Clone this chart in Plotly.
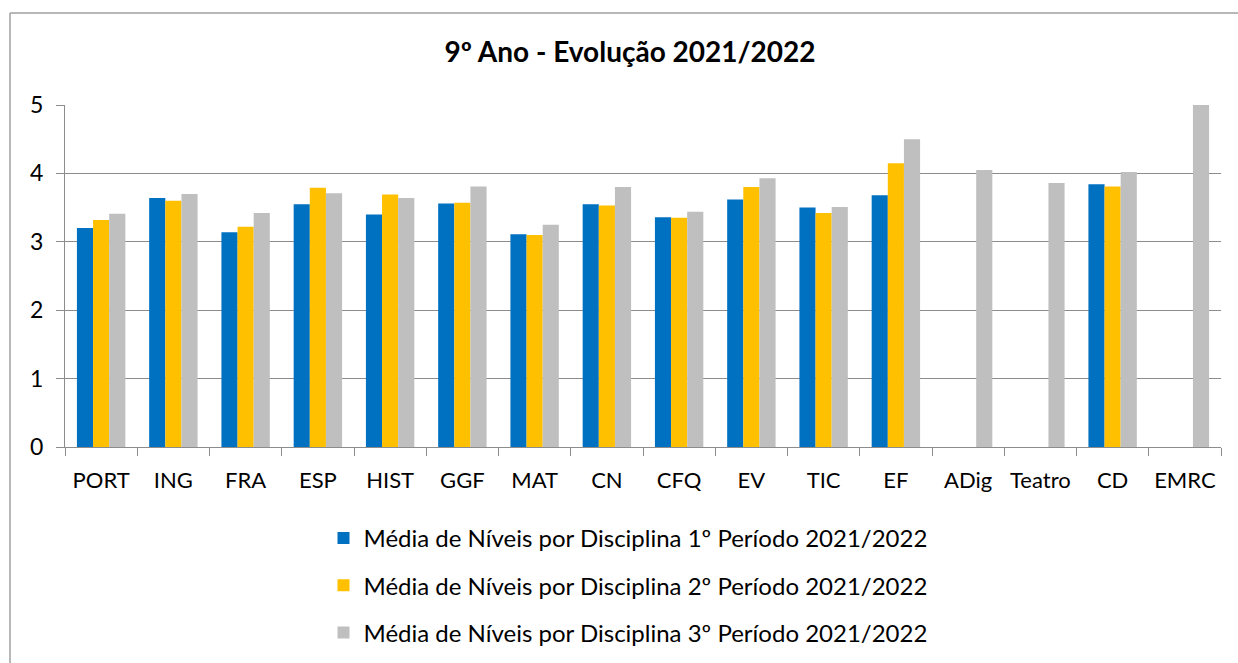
import plotly.graph_objects as go

categories = ["PORT", "ING", "FRA", "ESP", "HIST", "GGF", "MAT", "CN", "CFQ", "EV",
              "TIC", "EF", "ADig", "Teatro", "CD", "EMRC"]
periodo1 = [3.20, 3.64, 3.14, 3.55, 3.40, 3.56, 3.11, 3.55, 3.36, 3.62,
            3.50, 3.68, None, None, 3.84, None]
periodo2 = [3.32, 3.60, 3.22, 3.79, 3.69, 3.57, 3.10, 3.53, 3.35, 3.80,
            3.42, 4.15, None, None, 3.81, None]
periodo3 = [3.41, 3.70, 3.42, 3.71, 3.64, 3.81, 3.25, 3.80, 3.44, 3.93,
            3.51, 4.50, 4.05, 3.86, 4.02, 5.00]
series_names = [
    "Média de Níveis por Disciplina 1º Período 2021/2022",
    "Média de Níveis por Disciplina 2º Período 2021/2022",
    "Média de Níveis por Disciplina 3º Período 2021/2022",
]
colors = ["#0070C0", "#FFC000", "#BFBFBF"]
y_ticks = [0, 1, 2, 3, 4, 5]

FONT = "Lato"
fig = go.Figure()
for i, (name, vals, col) in enumerate(zip(series_names, [periodo1, periodo2, periodo3], colors)):
    fig.add_trace(go.Bar(
        x=categories, y=vals, name=name, marker_color=col,
        marker_line_width=0, legendgroup=f"g{i}",
    ))

W, H = 1238, 663
L, R, T, B = 65, 17, 105, 216
pw = W - L - R
ph = H - T - B

def px_x(x):
    return (x - L) / pw

def px_y(y):
    return (H - B - y) / ph

fig.update_layout(
    width=W, height=H,
    margin=dict(l=L, r=R, t=T, b=B, autoexpand=False),
    paper_bgcolor="white", plot_bgcolor="white",
    barmode="group", bargap=0.33, bargroupgap=0,
    font=dict(family=FONT, size=22, color="black"),
    title=dict(text="<b>9º Ano - Evolução 2021/2022</b>", x=630 / W, xref="container",
               xanchor="center", y=1 - 52 / H, yref="container", yanchor="middle",
               font=dict(family=FONT, size=28, color="black")),
    xaxis=dict(showline=True, linecolor="#8C8C8C", linewidth=1,
               ticks="outside", tickson="boundaries", ticklen=8, tickcolor="#8C8C8C",
               showgrid=False, tickfont=dict(size=22), tickangle=0,
               ticklabelstandoff=14),
    yaxis=dict(range=[0, 5], tickvals=y_ticks, showline=True, linecolor="#8C8C8C",
               linewidth=1, ticks="outside", ticklen=8, tickcolor="#8C8C8C",
               showgrid=True, gridcolor="#8C8C8C", gridwidth=1, zeroline=False,
               tickfont=dict(size=23), ticklabelstandoff=8),
    showlegend=True,
    legend=dict(orientation="v", x=px_x(628), xanchor="center", y=px_y(516), yanchor="top",
                traceorder="grouped", tracegroupgap=13, font=dict(size=24),
                itemclick=False),
    shapes=[
        dict(type="line", xref="paper", yref="paper", x0=px_x(10), x1=px_x(1240),
             y0=px_y(13), y1=px_y(13), line=dict(color="#A0A0A0", width=1.5)),
        dict(type="line", xref="paper", yref="paper", x0=px_x(10), x1=px_x(10),
             y0=px_y(13), y1=px_y(665), line=dict(color="#A0A0A0", width=1.5)),
    ],
)

fig.write_html(
    "out.html",
    config={"displayModeBar": False},
    post_script="document.body.style.margin='0';document.body.style.overflow='hidden';",
)
